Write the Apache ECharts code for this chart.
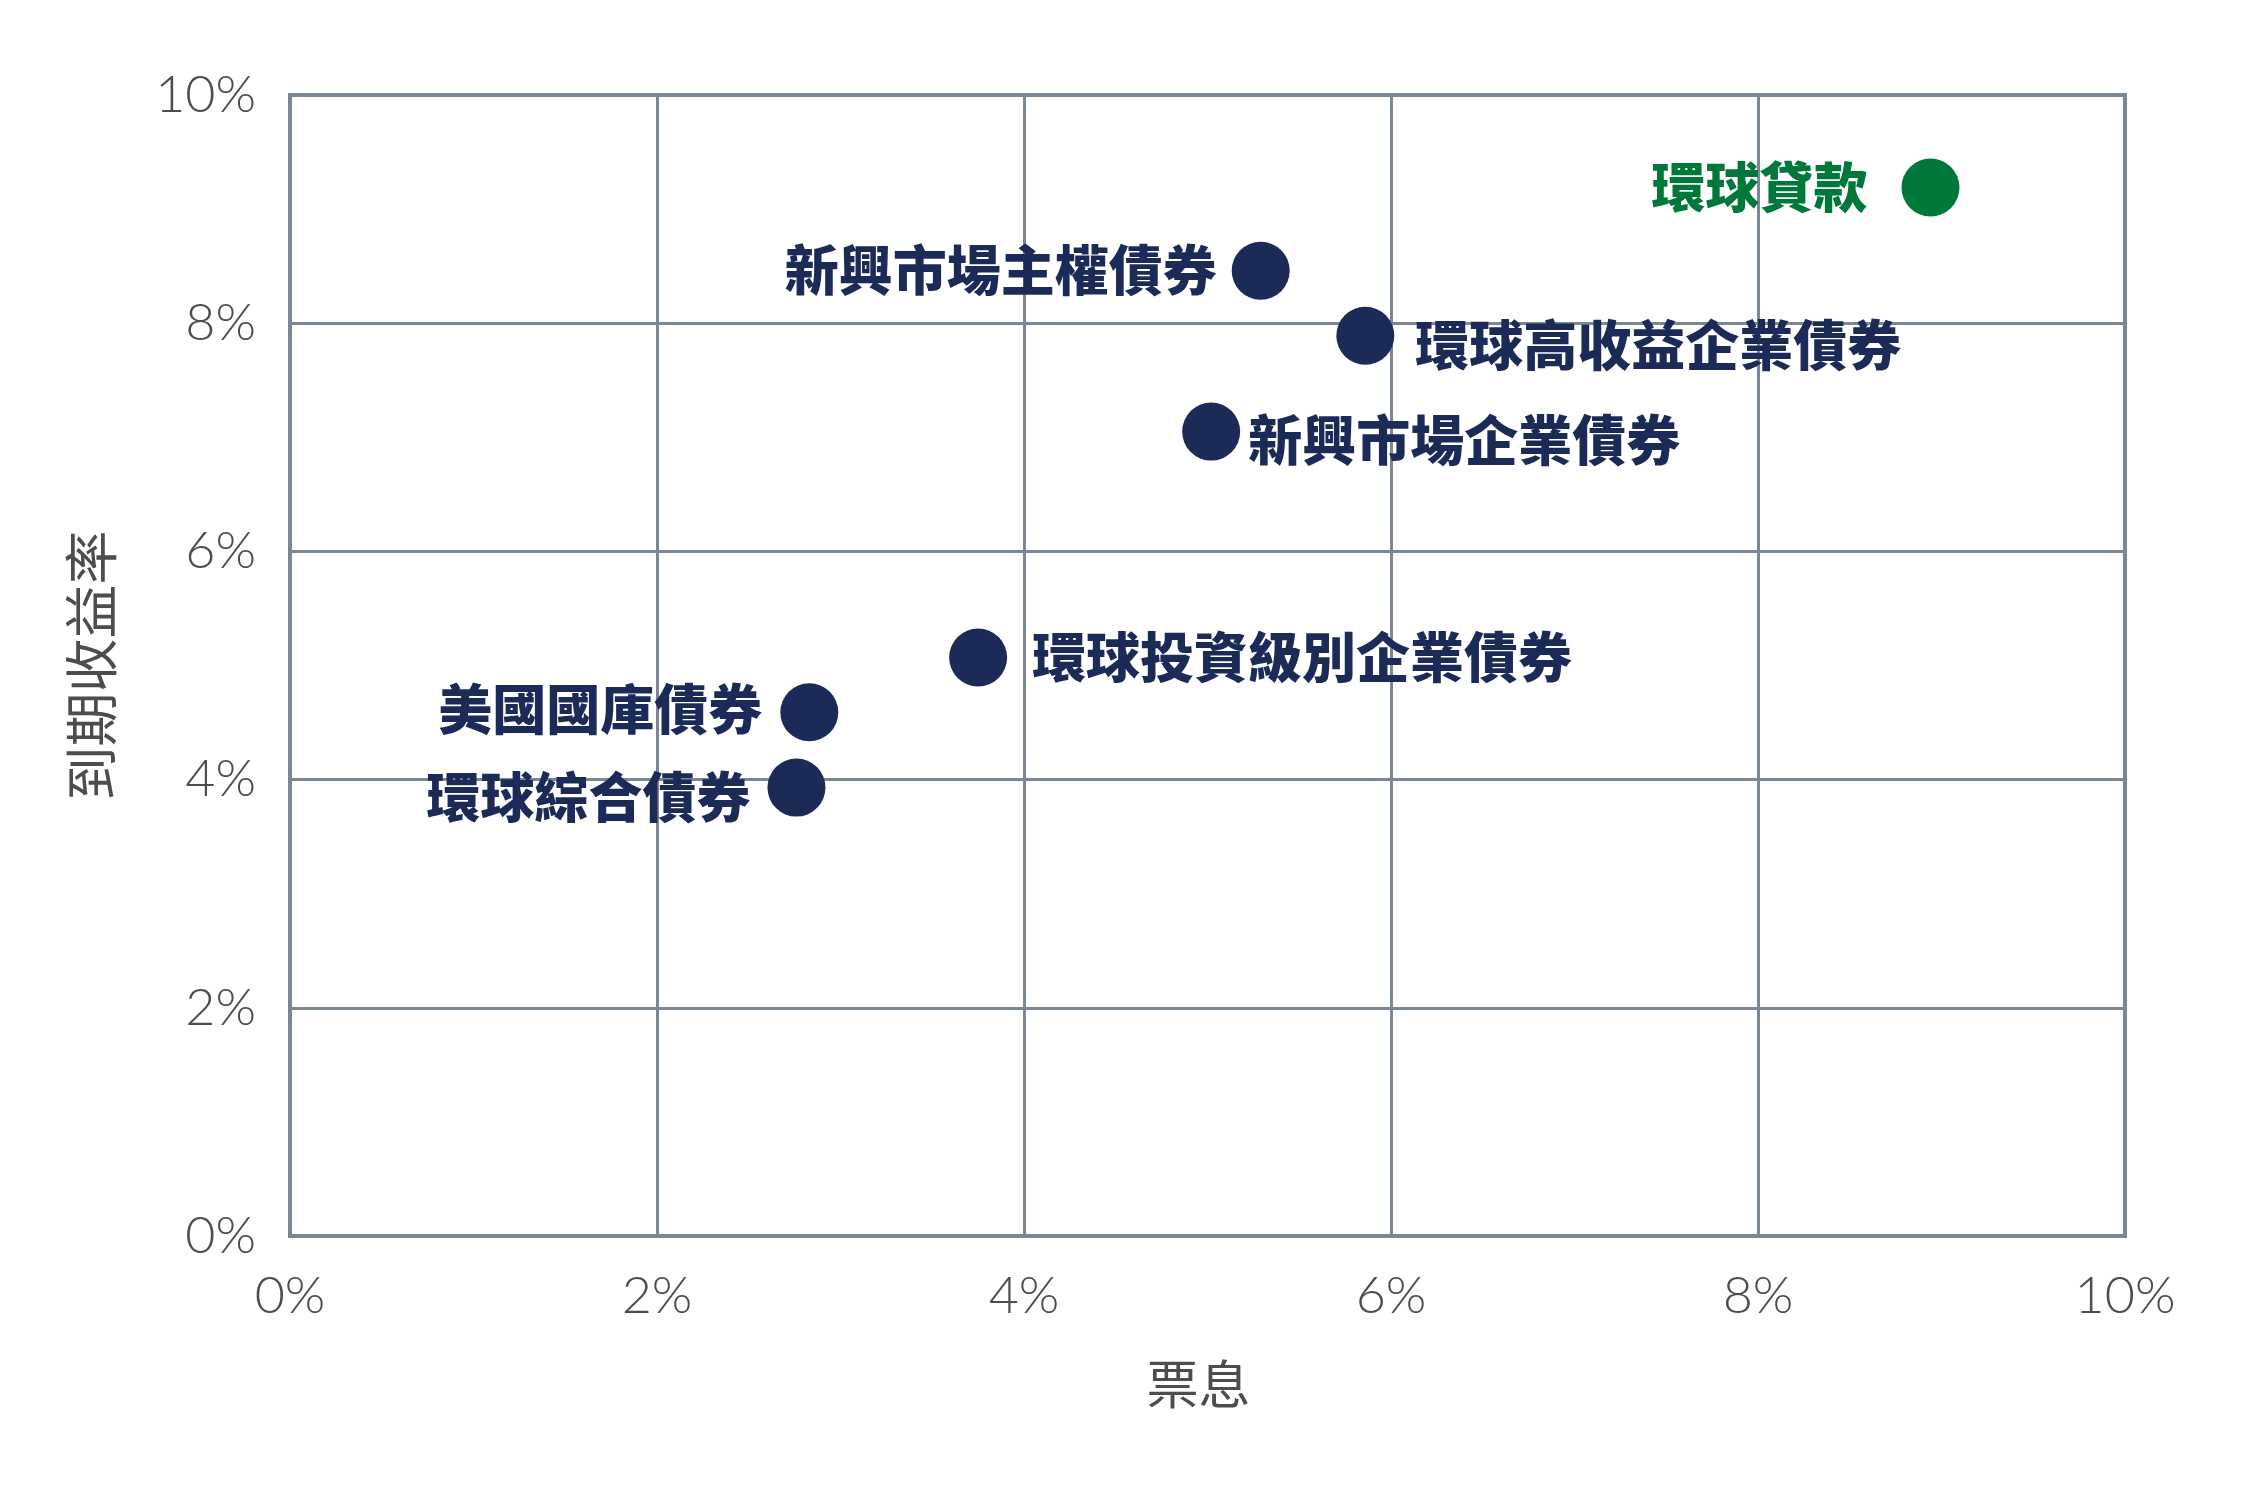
<!DOCTYPE html>
<html>
<head>
<meta charset="utf-8">
<script src="https://cdn.jsdelivr.net/npm/echarts@6/dist/echarts.min.js"></script>
<style>
  html, body { margin: 0; padding: 0; background: #fff; }
  #chart { width: 2242px; height: 1485px; }
</style>
</head>
<body>
<div id="chart"></div>
<script>
// 各類資產：票息 vs 到期收益率 (%)
var names = ['環球貸款', '新興市場主權債券', '環球高收益企業債券', '新興市場企業債券',
	'環球投資級別企業債券', '美國國庫債券', '環球綜合債券'];
var coupon = [8.94, 5.29, 5.86, 5.02, 3.75, 2.83, 2.76];
var ytm = [9.19, 8.46, 7.89, 7.05, 5.07, 4.59, 3.93];
var axisTicks = [0, 2, 4, 6, 8, 10];

var NAVY = '#1b2a57',
	GREEN = '#00783a',
	GRID = '#7b8793',
	TEXT = '#4d4d4d';

// 標籤擺放（左/右、距離、上下微調）
var labelPlace = {
	'環球貸款':           { pos: 'left',  dist: 34, dy: 0 },
	'新興市場主權債券':   { pos: 'left',  dist: 15, dy: 0 },
	'環球高收益企業債券': { pos: 'right', dist: 21, dy: 10 },
	'新興市場企業債券':   { pos: 'right', dist: 8,  dy: 9 },
	'環球投資級別企業債券': { pos: 'right', dist: 25, dy: 0 },
	'美國國庫債券':       { pos: 'left',  dist: 18, dy: -3 },
	'環球綜合債券':       { pos: 'left',  dist: 17, dy: 10 }
};

var points = [];
for (var i = 0; i < names.length; i++) {
	var p = labelPlace[names[i]];
	var color = i === 0 ? GREEN : NAVY;
	points.push({
		name: names[i],
		value: [coupon[i], ytm[i]],
		itemStyle: { color: color, opacity: 1 },
		label: {
			position: p.pos,
			distance: p.dist,
			offset: [0, p.dy],
			color: color
		}
	});
}

var tickFont = {
	fontFamily: 'Lato',
	fontWeight: 300,
	fontSize: 52,
	color: TEXT
};

var chartObj = echarts.init(document.getElementById('chart'));
var option = {
	animation: false,
	backgroundColor: '#fff',
	grid: {
		left: 290,
		right: 117,
		top: 95,
		bottom: 249,
		show: true,
		borderColor: GRID,
		borderWidth: 4
	},
	xAxis: {
		type: 'value',
		min: axisTicks[0],
		max: axisTicks[axisTicks.length - 1],
		interval: 2,
		name: '票息',
		nameLocation: 'middle',
		nameGap: 122,
		nameTextStyle: { fontFamily: 'Noto Sans CJK TC', fontSize: 52, color: TEXT, padding: [0, 18, 0, 0] },
		axisLine: { show: true, lineStyle: { color: GRID, width: 4 } },
		axisTick: { show: false },
		axisLabel: Object.assign({ margin: 34, formatter: '{value}%' }, tickFont),
		splitLine: { lineStyle: { color: GRID, width: 3 } }
	},
	yAxis: {
		type: 'value',
		min: axisTicks[0],
		max: axisTicks[axisTicks.length - 1],
		interval: 2,
		name: '到期收益率',
		nameLocation: 'middle',
		nameRotate: 90,
		nameGap: 172,
		nameTextStyle: { fontFamily: 'Noto Sans CJK TC', fontSize: 54, color: TEXT },
		axisLine: { show: true, lineStyle: { color: GRID, width: 4 } },
		axisTick: { show: false },
		axisLabel: Object.assign({ margin: 34, formatter: '{value}%' }, tickFont),
		splitLine: { lineStyle: { color: GRID, width: 3 } }
	},
	series: [
		{
			type: 'scatter',
			symbol: 'circle',
			symbolSize: 58,
			itemStyle: { opacity: 1 },
			data: points,
			label: {
				show: true,
				formatter: '{b}',
				fontFamily: 'Noto Sans CJK TC',
				fontWeight: 900,
				fontSize: 54
			}
		}
	]
};
chartObj.setOption(option);
</script>
</body>
</html>
